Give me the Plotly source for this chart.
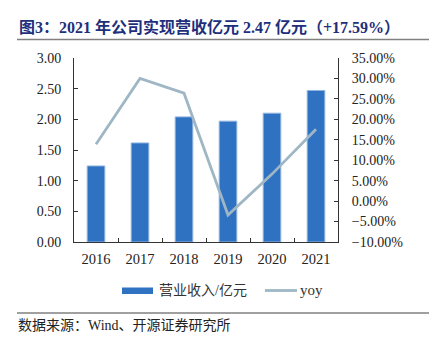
import plotly.graph_objects as go

years = ["2016", "2017", "2018", "2019", "2020", "2021"]
revenue = [1.24, 1.615, 2.04, 1.97, 2.10, 2.47]
yoy = [13.9, 30.0, 26.4, -3.4, 6.6, 17.59]

W, H = 436, 351
L, R, T, B = 74, 338, 58, 242

def px(x):
    return (x - L) / (R - L)

def py(y):
    return (B - y) / (B - T)

font_fam = "Liberation Serif, Noto Sans CJK SC, serif"
bar_color = "#3072C2"
line_color = "#9FB7C5"

fig = go.Figure()
fig.add_trace(go.Bar(
    x=years, y=revenue, name="营业收入/亿元",
    marker=dict(color=bar_color, line=dict(color="#8FB4E0", width=1)),
    width=0.4, showlegend=False,
))
fig.add_trace(go.Scatter(
    x=years, y=yoy, name="yoy", yaxis="y2", mode="lines",
    line=dict(color=line_color, width=2.8), showlegend=False,
))

tick_font = dict(size=14, color="#222")
fig.update_layout(
    width=W, height=H,
    margin=dict(l=L, r=W - R, t=T, b=H - B),
    paper_bgcolor="white", plot_bgcolor="white",
    font=dict(family=font_fam, size=14, color="#222"),
    xaxis=dict(
        type="category", showline=True, linecolor="#333", linewidth=1,
        ticks="inside", tickson="boundaries", ticklen=4, tickcolor="#333",
        showgrid=False, tickfont=dict(size=14.5, color="#222"), ticklabelstandoff=4,
    ),
    yaxis=dict(
        range=[0, 3], dtick=0.5, tickformat=".2f", showline=True, linecolor="#333",
        ticks="inside", ticklen=4, tickcolor="#333", showgrid=False, zeroline=False,
        tickfont=tick_font, ticklabelstandoff=9,
    ),
    yaxis2=dict(
        range=[-10, 35], dtick=5, tickformat=".2f", ticksuffix="%", overlaying="y",
        side="right", showline=True, linecolor="#333", ticks="inside", ticklen=4,
        tickcolor="#333", showgrid=False, zeroline=False,
        tickfont=tick_font, ticklabelstandoff=10,
    ),
)

fig.add_annotation(
    text="<b>图3：2021 年公司实现营收亿元 2.47 亿元（+17.59%）</b>",
    xref="paper", yref="paper", x=px(17), y=py(27), xanchor="left", yanchor="middle",
    showarrow=False, font=dict(family=font_fam, size=16, color="#1E2F7C"),
)
fig.add_annotation(
    text="数据来源：Wind、开源证券研究所",
    xref="paper", yref="paper", x=px(16), y=py(325), xanchor="left", yanchor="middle",
    showarrow=False, font=dict(family=font_fam, size=14, color="#222"),
)
for yy in (39.5, 313):
    fig.add_shape(type="line", xref="paper", yref="paper",
                  x0=px(17), x1=px(429), y0=py(yy), y1=py(yy),
                  line=dict(color="#808080", width=1.5))

# custom legend
fig.add_shape(type="rect", xref="paper", yref="paper",
              x0=px(122), x1=px(153), y0=py(287.5), y1=py(294),
              fillcolor=bar_color, line=dict(width=0))
fig.add_annotation(text="营业收入/亿元", xref="paper", yref="paper",
                   x=px(157), y=py(290.5), xanchor="left", yanchor="middle",
                   showarrow=False, font=dict(family=font_fam, size=14, color="#333"))
fig.add_shape(type="line", xref="paper", yref="paper",
              x0=px(265), x1=px(297), y0=py(290.5), y1=py(290.5),
              line=dict(color=line_color, width=2.8))
fig.add_annotation(text="yoy", xref="paper", yref="paper",
                   x=px(298), y=py(289.5), xanchor="left", yanchor="middle",
                   showarrow=False, font=dict(family=font_fam, size=15, color="#333"))

fig.write_html("out.html")
